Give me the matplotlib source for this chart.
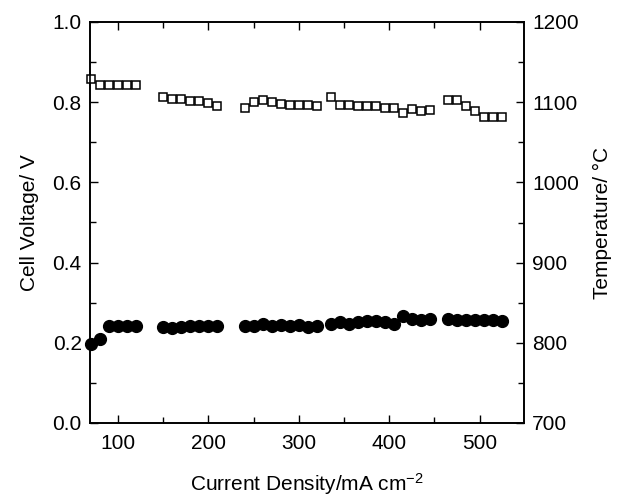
import matplotlib
matplotlib.use("Agg")
import matplotlib.pyplot as plt
from matplotlib.ticker import MultipleLocator, FormatStrFormatter

plt.rcParams["font.family"] = ["Liberation Sans", "DejaVu Sans"]
plt.rcParams["mathtext.default"] = "regular"

# current density (mA cm-2), grouped by run segment
current = [70, 80, 90, 100, 110, 120,
           150, 160, 170, 180, 190, 200, 210,
           240, 250, 260, 270, 280, 290, 300, 310, 320,
           335, 345, 355, 365, 375, 385, 395, 405, 415, 425, 435, 445,
           465, 475, 485, 495, 505, 515, 525]

# cell voltage (V), filled circles, left axis
voltage = [0.197, 0.210, 0.241, 0.242, 0.242, 0.241,
           0.239, 0.237, 0.239, 0.242, 0.242, 0.242, 0.242,
           0.242, 0.242, 0.246, 0.243, 0.244, 0.242, 0.244, 0.240, 0.242,
           0.246, 0.252, 0.248, 0.252, 0.254, 0.254, 0.252, 0.246, 0.266, 0.260, 0.258, 0.260,
           0.260, 0.258, 0.258, 0.258, 0.258, 0.256, 0.254]

# temperature (deg C), open squares, right axis
temperature = [1129, 1121, 1122, 1122, 1122, 1122,
               1106, 1104, 1104, 1102, 1101, 1099, 1095,
               1093, 1100, 1103, 1100, 1098, 1097, 1097, 1097, 1095,
               1106, 1096, 1096, 1095, 1095, 1095, 1093, 1093, 1086, 1091, 1089, 1090,
               1103, 1103, 1095, 1089, 1081, 1081, 1081]

fig = plt.figure(figsize=(6.18, 5.0), dpi=100)
ax = fig.add_axes([90 / 618, 77 / 500, 434 / 618, 401 / 500])
ax2 = ax.twinx()

ax.plot(current, voltage, "o", color="black", ms=8.5, zorder=3, clip_on=False)
ax2.plot(current, temperature, "s", mfc="white", mec="black", mew=1.1, ms=6.3, clip_on=False)

ax.set_xlim(69, 549)
ax.set_ylim(0.0, 1.0)
ax2.set_ylim(700, 1200)

ax.xaxis.set_major_locator(MultipleLocator(100))
ax.xaxis.set_minor_locator(MultipleLocator(50))
ax.yaxis.set_major_locator(MultipleLocator(0.2))
ax.yaxis.set_minor_locator(MultipleLocator(0.1))
ax2.yaxis.set_major_locator(MultipleLocator(100))
ax2.yaxis.set_minor_locator(MultipleLocator(50))
ax.yaxis.set_major_formatter(FormatStrFormatter("%.1f"))

ax.tick_params(axis="x", which="both", direction="in", top=True, labelsize=15, pad=8)
ax.tick_params(axis="y", which="both", direction="in", right=False, labelsize=15, pad=6)
ax2.tick_params(axis="y", which="both", direction="in", labelsize=15, pad=6)
for a in (ax, ax2):
    a.tick_params(which="major", length=6, width=1)
    a.tick_params(which="minor", length=4, width=1)
    for s in a.spines.values():
        s.set_linewidth(1.2)

ax.set_xlabel("Current Density/mA cm$^{-2}$", fontsize=15, labelpad=13)
ax.set_ylabel("Cell Voltage/ V", fontsize=15, labelpad=10)
ax2.set_ylabel("Temperature/ \u00b0C", fontsize=15, labelpad=10)

fig.savefig("out.png", dpi=100)
